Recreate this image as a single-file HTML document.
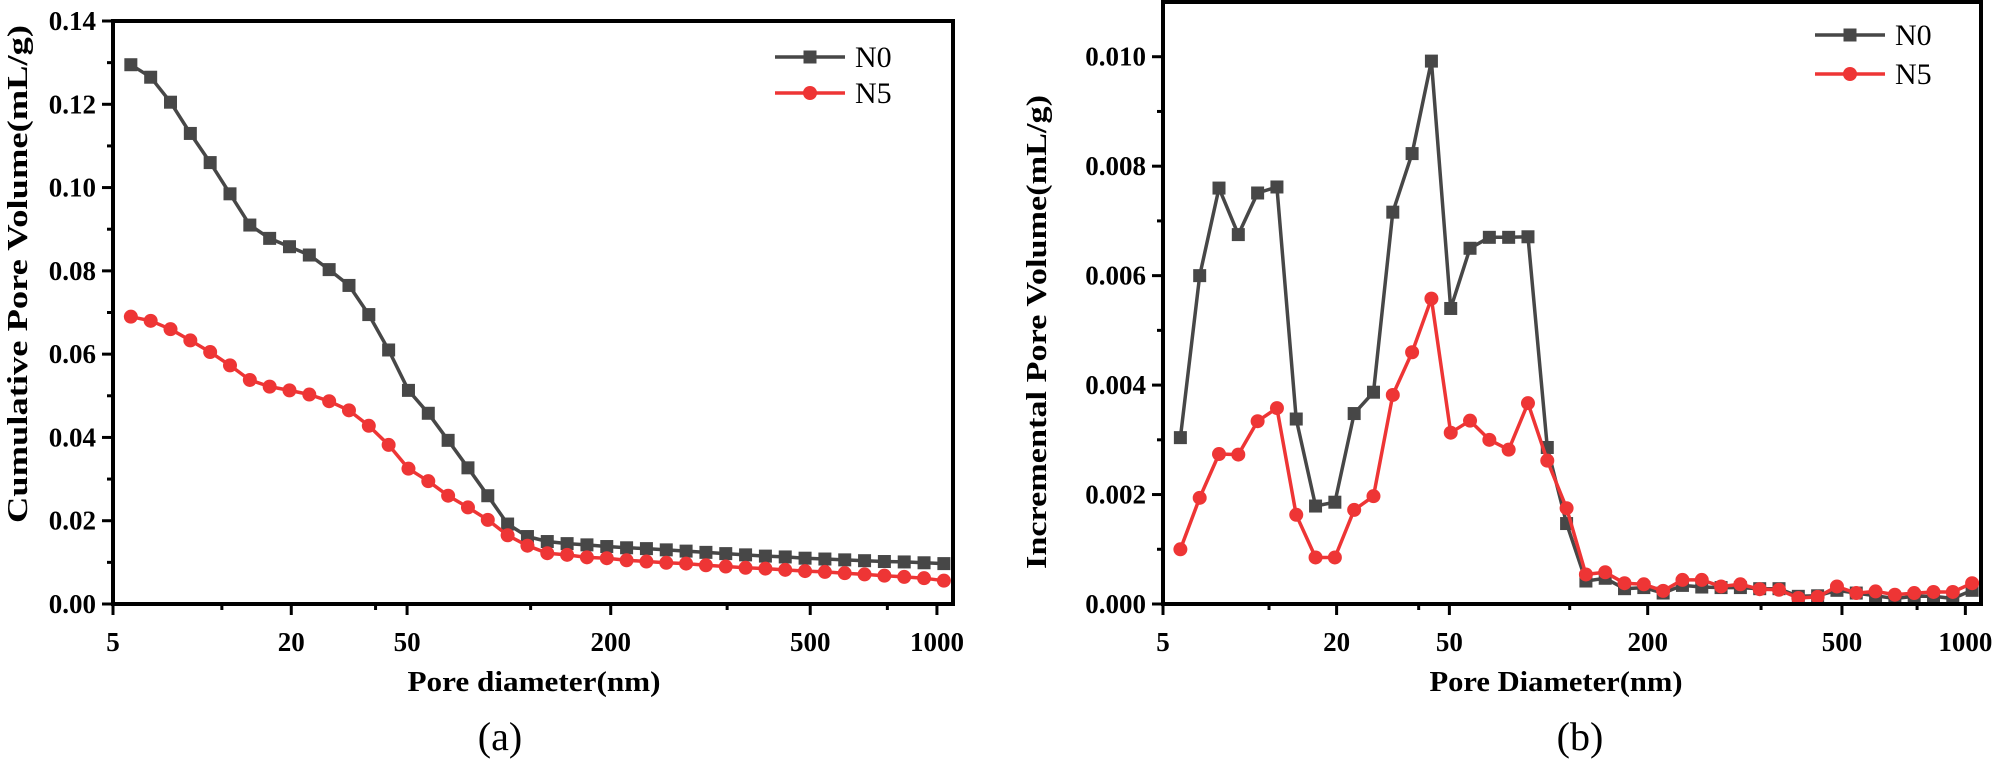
<!DOCTYPE html>
<html><head><meta charset="utf-8">
<style>
html,body{margin:0;padding:0;background:#fff;}
svg{display:block;}
text{font-family:"Liberation Serif",serif;}
</style></head>
<body>
<svg id="fig" width="2000" height="765" viewBox="0 0 2000 765" xmlns="http://www.w3.org/2000/svg"></svg>
<script>
// ---- data ----
const xTickLabels = ["5","20","50","200","500","1000"];
const xTickIdx = [-0.9, 8.09, 13.93, 24.2, 34.26, 40.65];
const xMinorIdx = [4.59, 12.34, 20.16, 30.07, 38.15];
const cumN0 = [0.1295,0.1265,0.1205,0.113,0.106,0.0985,0.091,0.0878,0.0858,0.0838,0.0803,0.0765,0.0695,0.061,0.0513,0.0458,0.0393,0.0327,0.026,0.0192,0.0162,0.015,0.0145,0.0142,0.0138,0.0135,0.0133,0.013,0.0127,0.0124,0.0121,0.0118,0.0115,0.0113,0.011,0.0108,0.0106,0.0104,0.0102,0.0101,0.0099,0.0097];
const cumN5 = [0.069,0.068,0.066,0.0633,0.0605,0.0573,0.0538,0.0522,0.0513,0.0503,0.0487,0.0465,0.0428,0.0382,0.0325,0.0295,0.026,0.0232,0.0202,0.0165,0.014,0.0122,0.0118,0.0112,0.011,0.0105,0.0102,0.0099,0.0097,0.0093,0.009,0.0087,0.0085,0.0082,0.0079,0.0077,0.0074,0.0071,0.0068,0.0065,0.0062,0.0056];
const incN0 = [0.00304,0.0060,0.0076,0.00675,0.00751,0.00762,0.00338,0.00179,0.00186,0.00348,0.00387,0.00716,0.00823,0.00992,0.0054,0.0065,0.0067,0.0067,0.00671,0.00286,0.00147,0.00042,0.00047,0.00028,0.0003,0.0002,0.00034,0.00031,0.0003,0.0003,0.00028,0.00028,0.00014,0.00015,0.00025,0.0002,0.00015,0.0001,0.00014,0.00014,0.0001,0.00025];
const incN5 = [0.001,0.00194,0.00274,0.00273,0.00334,0.00358,0.00163,0.00085,0.00085,0.00172,0.00197,0.00382,0.0046,0.00558,0.00313,0.00335,0.003,0.00282,0.00367,0.00262,0.00175,0.00054,0.00058,0.00038,0.00036,0.00024,0.00044,0.00044,0.00032,0.00036,0.00027,0.00026,0.00011,0.00013,0.00032,0.0002,0.00023,0.00017,0.0002,0.00022,0.00022,0.00038];
const cumYTicks = [0,0.02,0.04,0.06,0.08,0.10,0.12,0.14];
const cumYLabels = ["0.00","0.02","0.04","0.06","0.08","0.10","0.12","0.14"];
const incYTicks = [0,0.002,0.004,0.006,0.008,0.010];
const incYLabels = ["0.000","0.002","0.004","0.006","0.008","0.010"];

const NS="http://www.w3.org/2000/svg";
const svg=document.getElementById('fig');
function mk(tag,attrs,parent){const e=document.createElementNS(NS,tag);for(const k in attrs)e.setAttribute(k,attrs[k]);(parent||svg).appendChild(e);return e;}

function drawPanel(p){
  const g=mk('g',{});
  
  
  const xS=i=>p.x0+(i-(-0.9))/(p.xMax-(-0.9))*(p.x1-p.x0);
  const yS=v=>p.y1-(v-0)/(p.yMax)*(p.y1-p.y0);
  // series
  const series=[{d:p.n0,c:'#474747',m:'sq',n:'n0'},{d:p.n5,c:'#ee3535',m:'ci',n:'n5'}];
  series.forEach(s=>{
    const pts=s.d.map((v,i)=>xS(i).toFixed(1)+','+yS(v).toFixed(1)).join(' ');
    const pl=mk('polyline',{points:pts,fill:'none',stroke:s.c,'stroke-width':3.5,'stroke-linejoin':'round'},g);
    
    
    s.d.forEach((v,i)=>{
      let e;
      if(s.m==='sq') e=mk('rect',{x:xS(i)-6.5,y:yS(v)-6.5,width:13,height:13,fill:s.c},g);
      else e=mk('circle',{cx:xS(i),cy:yS(v),r:7,fill:s.c},g);
      
      
    });
  });
  // frame
  const fr=mk('rect',{x:p.x0,y:p.y0,width:p.x1-p.x0,height:p.y1-p.y0,fill:'none',stroke:'#000','stroke-width':4},g);
  
  
  // y ticks
  p.yT.forEach((v,k)=>{
    const y=yS(v);
    mk('line',{x1:p.x0-11,x2:p.x0,y1:y,y2:y,stroke:'#000','stroke-width':3},g);
    const t=mk('text',{x:p.x0-17,y:y+9,'text-anchor':'end','font-size':27,'font-weight':'bold'},g);
    t.textContent=p.yL[k];
    
    
    if(k<p.yT.length-1){const ym=yS(v+p.yStep/2);mk('line',{x1:p.x0-6,x2:p.x0,y1:ym,y2:ym,stroke:'#000','stroke-width':3},g);}
  });
  // x ticks
  xTickIdx.forEach((ix,k)=>{
    const x=xS(ix);
    mk('line',{x1:x,x2:x,y1:p.y1,y2:p.y1+11,stroke:'#000','stroke-width':3},g);
    const t=mk('text',{x:x,y:p.y1+47,'text-anchor':'middle','font-size':27,'font-weight':'bold'},g);
    t.textContent=xTickLabels[k];
    
    
  });
  xMinorIdx.forEach(ix=>{const x=xS(ix);mk('line',{x1:x,x2:x,y1:p.y1,y2:p.y1+6,stroke:'#000','stroke-width':3},g);});
  // titles
  const xt=mk('text',{x:(p.x0+p.x1)/2+p.xtOff,y:691,'text-anchor':'middle','font-size':28,'font-weight':'bold',textLength:p.xtLen,lengthAdjust:'spacingAndGlyphs'},g);
  xt.textContent=p.xTitle;
  
  
  const yt=mk('text',{x:0,y:0,'text-anchor':'middle','font-size':28,'font-weight':'bold',transform:`translate(${p.ytx},${p.yty}) rotate(-90)`,textLength:p.ytLen,lengthAdjust:'spacingAndGlyphs'},g);
  yt.textContent=p.yTitle;
  
  
  const pl=mk('text',{x:p.plx,y:750,'text-anchor':'middle','font-size':40},g);
  pl.textContent=p.panel;
  
  
  // legend
  [['N0','#474747','sq',p.lgY0],['N5','#ee3535','ci',p.lgY1]].forEach(l=>{
    const lg=mk('g',{},g);
    
    
    mk('line',{x1:p.lgX,x2:p.lgX+70,y1:l[3],y2:l[3],stroke:l[1],'stroke-width':3.5},lg);
    if(l[2]==='sq') mk('rect',{x:p.lgX+35-6.5,y:l[3]-6.5,width:13,height:13,fill:l[1]},lg);
    else mk('circle',{cx:p.lgX+35,cy:l[3],r:7,fill:l[1]},lg);
    const t=mk('text',{x:p.lgX+80,y:l[3]+10,'font-size':30},lg);
    t.textContent=l[0];
  });
}

drawPanel({name:'cumulative-chart',x0:113,x1:953,y0:21,y1:604,xMax:41.46,yMax:0.14,yStep:0.02,
  n0:cumN0,n5:cumN5,yT:cumYTicks,yL:cumYLabels,xTitle:'Pore diameter(nm)',xtOff:1,xtLen:253,
  yTitle:'Cumulative Pore Volume(mL/g)',ytx:27,yty:274,ytLen:498,panel:'(a)',plx:500,lgX:775,lgY0:57,lgY1:93});
drawPanel({name:'incremental-chart',x0:1163,x1:1981,y0:2,y1:604,xMax:41.46,yMax:0.011,yStep:0.002,
  n0:incN0,n5:incN5,yT:incYTicks,yL:incYLabels,xTitle:'Pore Diameter(nm)',xtOff:-16,xtLen:253,
  yTitle:'Incremental Pore Volume(mL/g)',ytx:1046,yty:332,ytLen:474,panel:'(b)',plx:1580,lgX:1815,lgY0:35,lgY1:74});
</script>
</body></html>
